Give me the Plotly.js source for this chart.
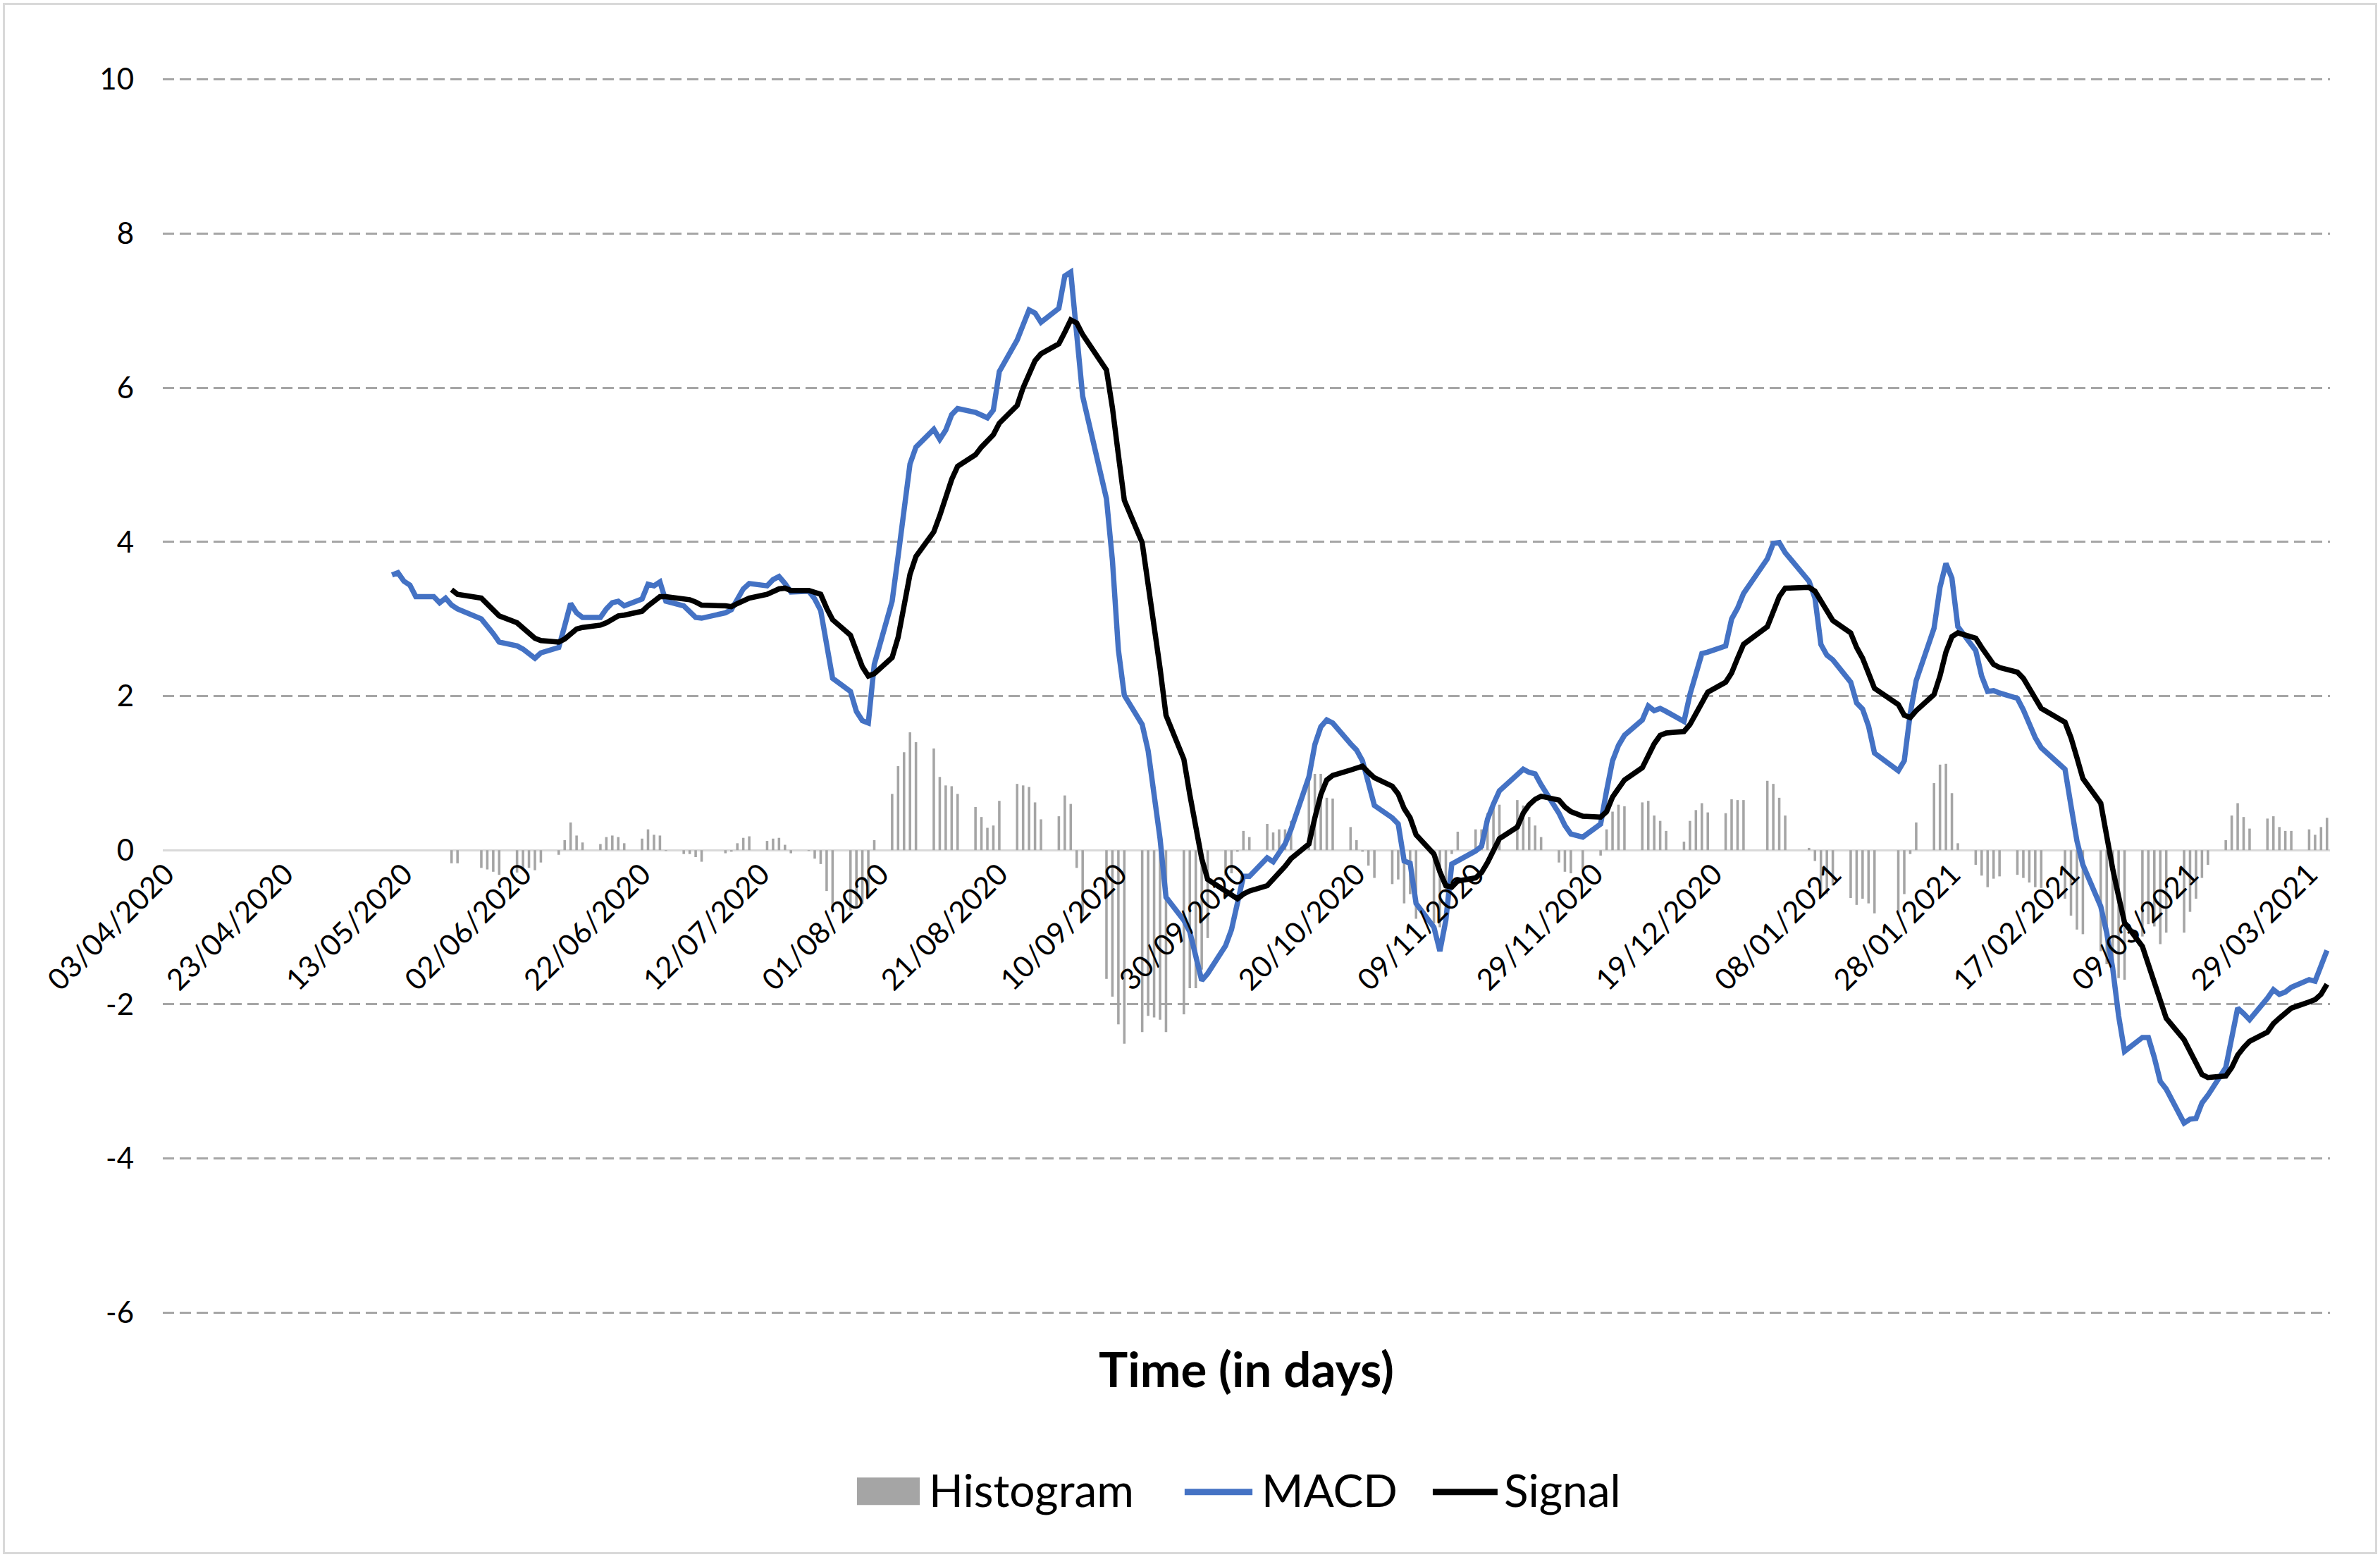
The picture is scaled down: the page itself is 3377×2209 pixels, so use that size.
<!DOCTYPE html>
<html>
<head>
<meta charset="utf-8">
<script src="https://cdn.plot.ly/plotly-3.0.1.min.js"></script>
<style>
html,body{margin:0;padding:0;background:#fff;}
#wrap{position:relative;width:3377px;height:2209px;}
#chart{width:3377px;height:2209px;}
#frame{position:absolute;left:4px;top:4px;width:3369px;height:2201px;border:3px solid #d9d9d9;box-sizing:border-box;pointer-events:none;}
</style>
</head>
<body>
<div id="wrap"><div id="chart"></div><div id="frame"></div></div>
<script>
// ---- calendar (US trading days) ----
const firstDay = '2020-04-03';
const lastDay = '2021-04-01';
const marketHolidays = ['2020-04-10','2020-05-25','2020-07-03','2020-09-07','2020-11-26',
  '2020-12-25','2021-01-01','2021-01-18','2021-02-15'];

// ---- x tick labels ----
const xTickLabels = ['03/04/2020','23/04/2020','13/05/2020','02/06/2020','22/06/2020','12/07/2020',
  '01/08/2020','21/08/2020','10/09/2020','30/09/2020','20/10/2020','09/11/2020','29/11/2020',
  '19/12/2020','08/01/2021','28/01/2021','17/02/2021','09/03/2021','29/03/2021'];
const yTickLabels = ['-6','-4','-2','0','2','4','6','8','10'];

// ---- MACD (from 11/05/2020 to 01/04/2021, one value per trading day) ----
const macdValues = [
  // May 2020
  3.57,3.60,3.49,3.44,3.29,3.29,3.21,3.27,3.18,3.13,3.00,2.91,2.81,2.70,
  // Jun
  2.65,2.61,2.56,2.49,2.56,2.63,2.91,3.20,3.08,3.02,3.02,3.13,3.21,3.23,3.17,3.26,3.45,3.43,3.48,3.23,3.17,3.10,
  // Jul
  3.02,3.01,3.08,3.12,3.26,3.39,3.46,3.43,3.51,3.55,3.46,3.35,3.36,3.26,3.11,2.64,2.23,2.06,1.80,1.68,1.65,2.41,
  // Aug
  3.23,3.81,4.40,5.01,5.23,5.46,5.33,5.45,5.65,5.73,5.68,5.65,5.61,5.71,6.21,6.62,6.82,7.01,6.97,6.85,7.03,
  // Sep
  7.45,7.50,6.72,5.89,4.56,3.76,2.60,2.01,1.63,1.29,0.72,0.15,-0.61,-0.91,-1.06,-1.41,-1.69,-1.60,-1.24,-1.03,-0.68,
  // Oct
  -0.34,-0.34,-0.10,-0.15,-0.04,0.08,0.27,0.95,1.37,1.60,1.69,1.65,1.38,1.30,1.16,0.89,0.58,0.42,0.34,-0.14,-0.17,-0.69,
  // Nov
  -1.00,-1.31,-0.91,-0.18,-0.14,-0.01,0.05,0.40,0.60,0.77,0.98,1.05,1.01,0.99,0.85,0.48,0.32,0.21,0.17,0.34,
  // Dec
  0.77,1.16,1.36,1.49,1.69,1.87,1.81,1.84,1.80,1.67,2.02,2.28,2.55,2.57,2.65,3.00,3.14,3.33,3.78,3.98,3.99,3.86,
  // Jan 2021
  3.49,3.27,2.67,2.53,2.47,2.18,1.91,1.83,1.61,1.26,1.03,1.16,1.77,2.20,2.88,3.41,3.72,3.53,2.90,
  // Feb
  2.59,2.26,2.06,2.07,2.04,1.97,1.82,1.64,1.46,1.33,1.05,0.58,0.12,-0.19,-0.73,-1.07,-1.53,-2.15,-2.61,
  // Mar
  -2.43,-2.43,-2.69,-3.00,-3.10,-3.54,-3.49,-3.48,-3.28,-3.18,-2.82,-2.43,-2.05,-2.12,-2.20,-1.92,-1.81,-1.87,-1.84,-1.78,-1.68,-1.70,-1.51,
  // Apr
  -1.30
];

// ---- Signal (from 21/05/2020) ----
const signalValues = [
  3.38,3.32,3.27,3.20,3.12,3.04,
  2.95,2.88,2.81,2.75,2.72,2.70,2.74,2.81,2.87,2.89,2.92,2.95,3.00,3.04,3.05,3.10,3.17,3.23,3.29,3.29,3.26,3.25,
  3.22,3.18,3.17,3.16,3.20,3.24,3.27,3.32,3.36,3.39,3.40,3.37,3.37,3.35,3.32,3.14,2.99,2.79,2.58,2.38,2.26,2.29,
  2.50,2.76,3.17,3.58,3.81,4.13,4.34,4.57,4.81,4.98,5.13,5.23,5.30,5.39,5.54,5.77,6.00,6.16,6.35,6.44,6.57,
  6.72,6.88,6.84,6.69,6.23,5.74,5.13,4.54,3.99,3.46,2.85,2.36,1.75,1.18,0.72,0.27,-0.11,-0.38,-0.53,-0.59,-0.63,
  -0.57,-0.53,-0.46,-0.38,-0.30,-0.21,-0.11,0.08,0.42,0.72,0.91,0.97,1.04,1.07,1.09,1.01,0.94,0.83,0.73,0.54,0.42,0.20,
  -0.05,-0.28,-0.46,-0.48,-0.40,-0.36,-0.29,-0.16,0.01,0.15,0.30,0.48,0.59,0.66,0.70,0.65,0.56,0.50,0.44,0.43,
  0.50,0.69,0.80,0.91,1.07,1.24,1.38,1.49,1.52,1.54,1.63,1.77,1.91,2.05,2.18,2.30,2.49,2.67,2.90,3.10,3.29,3.40,
  3.41,3.36,3.23,3.10,2.98,2.82,2.63,2.49,2.30,2.10,1.89,1.75,1.72,1.81,2.02,2.26,2.57,2.77,2.82,
  2.75,2.63,2.51,2.41,2.37,2.31,2.23,2.10,1.97,1.84,1.66,1.46,1.20,0.93,0.61,0.17,-0.24,-0.60,-0.94,
  -1.25,-1.48,-1.71,-1.94,-2.18,-2.46,-2.61,-2.79,-2.91,-2.95,-2.93,-2.82,-2.66,-2.56,-2.48,-2.36,-2.25,-2.18,-2.11,-2.05,-1.97,-1.94,-1.87,
  -1.74
];

// ---- Histogram (from 21/05/2020) ----
const histogramValues = [
  -0.17,-0.17,-0.23,-0.25,-0.28,-0.32,
  -0.29,-0.26,-0.23,-0.26,-0.16,-0.06,0.13,0.36,0.19,0.10,0.08,0.17,0.19,0.17,0.09,0.15,0.27,0.20,0.19,-0.01,-0.05,-0.05,
  -0.09,-0.15,-0.04,-0.02,0.09,0.16,0.18,0.12,0.15,0.16,0.07,-0.04,-0.01,-0.11,-0.18,-0.53,-0.75,-0.78,-0.75,-0.70,-0.62,0.13,
  0.73,1.09,1.27,1.53,1.40,1.32,0.95,0.84,0.83,0.73,0.56,0.43,0.29,0.32,0.64,0.86,0.84,0.82,0.62,0.40,0.44,
  0.71,0.60,-0.23,-0.85,-1.67,-1.90,-2.26,-2.51,-2.36,-2.15,-2.17,-2.20,-2.36,-2.13,-1.79,-1.79,-1.55,-1.14,-0.33,-0.30,-0.02,
  0.25,0.17,0.34,0.23,0.27,0.27,0.38,0.99,0.99,0.99,0.68,0.67,0.30,0.13,-0.02,-0.20,-0.36,-0.44,-0.38,-0.69,-0.57,-0.89,
  -0.95,-1.00,-0.55,-0.05,0.24,0.27,0.27,0.48,0.58,0.59,0.65,0.58,0.43,0.32,0.17,-0.16,-0.28,-0.30,-0.26,-0.07,
  0.27,0.50,0.59,0.57,0.62,0.64,0.45,0.38,0.25,0.11,0.38,0.52,0.61,0.49,0.48,0.66,0.65,0.65,0.90,0.86,0.68,0.45,
  0.03,-0.14,-0.57,-0.57,-0.46,-0.62,-0.71,-0.63,-0.69,-0.82,-0.84,-0.57,-0.05,0.36,0.87,1.11,1.12,0.74,0.09,
  -0.19,-0.33,-0.48,-0.37,-0.34,-0.32,-0.36,-0.42,-0.48,-0.49,-0.63,-0.85,-1.03,-1.09,-1.31,-1.48,-1.58,-1.66,-1.68,
  -1.12,-0.96,-0.99,-1.22,-1.07,-1.07,-0.80,-0.63,-0.36,-0.19,0.13,0.45,0.61,0.43,0.28,0.41,0.44,0.30,0.25,0.25,0.27,0.20,0.30,
  0.42
];

function tradingDays() {
  const out = [];
  let d = new Date(firstDay + 'T00:00:00Z');
  const end = new Date(lastDay + 'T00:00:00Z');
  while (d <= end) {
    const iso = d.toISOString().slice(0, 10);
    const wd = d.getUTCDay();
    if (wd !== 0 && wd !== 6 && marketHolidays.indexOf(iso) < 0) out.push(iso);
    d = new Date(d.getTime() + 86400000);
  }
  return out;
}
const days = tradingDays();
const datesFor = arr => days.slice(days.length - arr.length);
const toIso = s => { const p = s.split('/'); return p[2] + '-' + p[1] + '-' + p[0]; };

const yRange = [-6.025, 10.025];
const FONT = 'Lato, "Open Sans", sans-serif';

const traces = [
  { type: 'bar', name: 'Histogram', x: datesFor(histogramValues), y: histogramValues,
    marker: { color: '#A5A5A5', line: { width: 0 } }, width: 0.42 * 86400000, hoverinfo: 'x+y' },
  { type: 'scatter', mode: 'lines', name: 'MACD', x: datesFor(macdValues), y: macdValues,
    line: { color: '#4472C4', width: 7.5 } },
  { type: 'scatter', mode: 'lines', name: 'Signal', x: datesFor(signalValues), y: signalValues,
    line: { color: '#000000', width: 7.5 } }
];

// legend drawn in paper coordinates (below the chart)
const legY = -0.1418;
const layout = {
  width: 3377, height: 2209,
  margin: { l: 231, r: 71, t: 110, b: 344 },
  paper_bgcolor: '#ffffff', plot_bgcolor: '#ffffff',
  showlegend: false,
  font: { family: FONT, color: '#000000', size: 42 },
  xaxis: {
    type: 'date',
    range: ['2020-04-02 12:00', '2021-04-01 12:00'],
    tickmode: 'array',
    tickvals: xTickLabels.map(toIso),
    ticktext: xTickLabels,
    tickangle: -45,
    tickfont: { family: FONT, size: 42, color: '#000' },
    ticks: '',
    showgrid: false, zeroline: false, showline: false,
    anchor: 'free',
    position: (0 - yRange[0]) / (yRange[1] - yRange[0]),
    title: { text: '<b>Time (in days)</b>', font: { family: FONT, size: 69, color: '#000' }, standoff: 506 }
  },
  yaxis: {
    range: yRange,
    tickmode: 'array',
    tickvals: yTickLabels.map(Number),
    ticktext: yTickLabels,
    tickfont: { family: FONT, size: 42, color: '#000' },
    ticks: '',
    ticklabelstandoff: 40,
    showgrid: true, gridcolor: '#a6a6a6', gridwidth: 3, griddash: '16px,8px',
    zeroline: true, zerolinecolor: '#d9d9d9', zerolinewidth: 3,
    showline: false
  },
  shapes: [
    { type: 'rect', xref: 'paper', yref: 'paper', x0: 0.3203, x1: 0.3493, y0: -0.1318, y1: -0.1540,
      fillcolor: '#A5A5A5', line: { width: 0 } },
    { type: 'line', xref: 'paper', yref: 'paper', x0: 0.4715, x1: 0.5028, y0: -0.1434, y1: -0.1434,
      line: { color: '#4472C4', width: 9 } },
    { type: 'line', xref: 'paper', yref: 'paper', x0: 0.5860, x1: 0.6159, y0: -0.1434, y1: -0.1434,
      line: { color: '#000000', width: 9 } }
  ],
  annotations: [
    { xref: 'paper', yref: 'paper', x: 0.3530, y: legY, xanchor: 'left', yanchor: 'middle', showarrow: false,
      text: 'Histogram', font: { family: FONT, size: 64, color: '#000' } },
    { xref: 'paper', yref: 'paper', x: 0.5062, y: legY, xanchor: 'left', yanchor: 'middle', showarrow: false,
      text: 'MACD', font: { family: FONT, size: 64, color: '#000' } },
    { xref: 'paper', yref: 'paper', x: 0.6182, y: legY, xanchor: 'left', yanchor: 'middle', showarrow: false,
      text: 'Signal', font: { family: FONT, size: 64, color: '#000' } }
  ]
};

Plotly.newPlot('chart', traces, layout, { staticPlot: true, displayModeBar: false });
</script>
</body>
</html>
